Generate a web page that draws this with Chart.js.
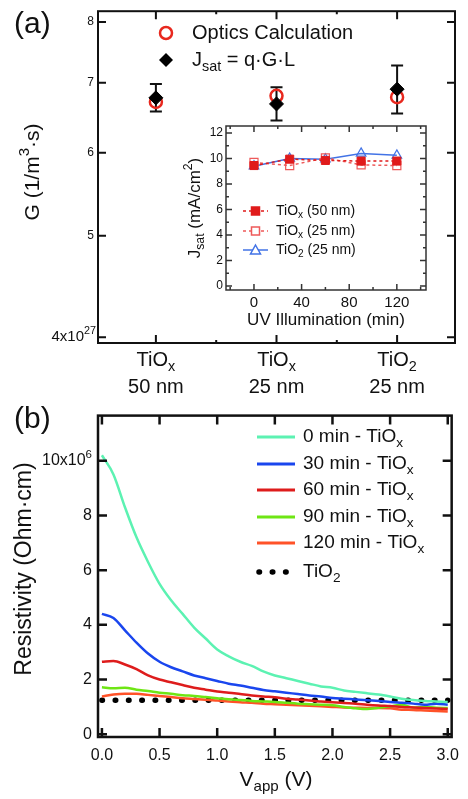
<!DOCTYPE html>
<html>
<head>
<meta charset="utf-8">
<script src="https://cdn.jsdelivr.net/npm/chart.js@4"></script>
<style>
  body { margin: 0; background: #fff; }
  #wrap { position: relative; width: 468px; height: 799px; }
  canvas { position: absolute; }
</style>
</head>
<body>
<div id="wrap">
  <canvas id="panelA" width="468" height="400" style="left:0;top:0"></canvas>
  <canvas id="inset" width="280" height="220" style="left:170px;top:115px"></canvas>
  <canvas id="panelB" width="468" height="399" style="left:0;top:400px"></canvas>
</div>
<script>
// ---- panel (a): generation rate per sample ----
const samples = [0, 1, 2];
const sampleTop = [['TiO', 'x'], ['TiO', 'x'], ['TiO', '2']];
const sampleBottom = ['50 nm', '25 nm', '25 nm'];
const opticsG = [6.71e27, 6.80e27, 6.78e27];
const jsatG = [6.77e27, 6.68e27, 6.90e27];
const jsatLow = [6.57e27, 6.44e27, 6.54e27];
const jsatHigh = [6.98e27, 6.93e27, 7.27e27];
const gTicks = [4e27, 5e27, 6e27, 7e27, 8e27];

// ---- inset: Jsat vs UV time ----
const uvMin = [0, 30, 60, 90, 120];
const jsatTiOx50 = [9.45, 9.95, 9.85, 9.8, 9.8];
const jsatTiOx25 = [9.7, 9.45, 10.05, 9.5, 9.45];
const jsatTiO2 = [9.4, 10.0, 9.95, 10.4, 10.25];
const uvTicks = [0, 40, 80, 120];

// ---- panel (b): resistivity vs applied voltage (x1e6 Ohm cm) ----
const vApp = [0.0, 0.1, 0.2, 0.3, 0.4, 0.5, 0.6, 0.7, 0.8, 0.9, 1.0, 1.1, 1.2, 1.3, 1.4, 1.5,
  1.6, 1.7, 1.8, 1.9, 2.0, 2.1, 2.2, 2.3, 2.4, 2.5, 2.6, 2.7, 2.8, 2.9, 3.0];
const res0 = [10.2, 9.5, 8.3, 7.2, 6.3, 5.5, 4.9, 4.4, 3.9, 3.5, 3.1, 2.85, 2.65, 2.5, 2.3, 2.15,
  2.05, 1.95, 1.85, 1.75, 1.7, 1.6, 1.55, 1.5, 1.45, 1.38, 1.3, 1.25, 1.22, 1.2, 1.18];
const res30 = [4.4, 4.25, 3.8, 3.35, 2.95, 2.65, 2.45, 2.3, 2.15, 2.05, 1.95, 1.85, 1.78, 1.7, 1.62, 1.57,
  1.52, 1.47, 1.42, 1.38, 1.33, 1.3, 1.27, 1.24, 1.22, 1.18, 1.15, 1.12, 1.08, 1.12, 1.08];
const res60 = [2.65, 2.68, 2.55, 2.38, 2.15, 2.0, 1.9, 1.8, 1.7, 1.63, 1.56, 1.52, 1.47, 1.42, 1.38, 1.35,
  1.3, 1.27, 1.23, 1.2, 1.17, 1.14, 1.12, 1.08, 1.05, 1.03, 1.0, 0.98, 0.96, 0.94, 0.92];
const res90 = [1.72, 1.68, 1.7, 1.63, 1.58, 1.52, 1.48, 1.43, 1.4, 1.36, 1.32, 1.28, 1.25, 1.22, 1.2, 1.18,
  1.15, 1.12, 1.1, 1.08, 1.06, 1.0, 0.95, 0.92, 0.97, 1.02, 1.08, 0.98, 1.0, 0.97, 0.96];
const res120 = [1.38, 1.45, 1.48, 1.48, 1.44, 1.4, 1.36, 1.32, 1.29, 1.26, 1.23, 1.2, 1.17, 1.15, 1.12, 1.1,
  1.08, 1.06, 1.04, 1.02, 1.0, 0.98, 0.97, 0.96, 0.96, 0.95, 0.9, 0.89, 0.87, 0.85, 0.83];
const tio2V = [0.0, 3.0];
const tio2Res = [1.24, 1.24];
const resTicks = [0, 2, 4, 6, 8, 10];

const FONT = '"Liberation Sans", Arial, Helvetica, sans-serif';
Chart.defaults.font.family = FONT;
Chart.defaults.color = '#111';

// text with sub (1) / superscript (2) pieces
function drawRich(ctx, parts, x, y, size, align, angle) {
  ctx.save();
  ctx.translate(x, y);
  if (angle) ctx.rotate(angle);
  let w = 0;
  for (const [t, m] of parts) {
    ctx.font = (m ? size * 0.72 : size) + 'px ' + FONT;
    w += ctx.measureText(t).width;
  }
  let cx = align === 'center' ? -w / 2 : align === 'right' ? -w : 0;
  ctx.textBaseline = 'middle';
  ctx.textAlign = 'left';
  ctx.fillStyle = '#111';
  for (const [t, m] of parts) {
    ctx.font = (m ? size * 0.72 : size) + 'px ' + FONT;
    const dy = m === 1 ? size * 0.33 : m === 2 ? -size * 0.4 : 0;
    ctx.fillText(t, cx, dy);
    cx += ctx.measureText(t).width;
  }
  ctx.restore();
}

// box frame + inward ticks, then extra text
function makeFrame(cfg) {
  return {
    id: 'frame',
    afterDraw(chart) {
      const { ctx, chartArea: a, scales } = chart;
      ctx.save();
      ctx.strokeStyle = cfg.color || '#111';
      ctx.lineWidth = cfg.width;
      ctx.strokeRect(a.left, a.top, a.right - a.left, a.bottom - a.top);
      ctx.beginPath();
      const xTick = (v, len) => {
        const px = scales.x.getPixelForValue(v);
        ctx.moveTo(px, a.bottom); ctx.lineTo(px, a.bottom - len);
        ctx.moveTo(px, a.top); ctx.lineTo(px, a.top + len);
      };
      const yTick = (v, len) => {
        const py = scales.y.getPixelForValue(v);
        ctx.moveTo(a.left, py); ctx.lineTo(a.left + len, py);
        ctx.moveTo(a.right, py); ctx.lineTo(a.right - len, py);
      };
      scales.x.ticks.forEach(t => xTick(t.value, cfg.major));
      scales.y.ticks.forEach(t => yTick(t.value, cfg.major));
      (cfg.xMinor || []).forEach(v => xTick(v, cfg.minor));
      (cfg.yMinor || []).forEach(v => yTick(v, cfg.minor));
      ctx.stroke();
      ctx.restore();
      if (cfg.text) cfg.text(chart, ctx);
    }
  };
}

// ---------- panel (a) ----------
const errorBars = {
  id: 'errorBars',
  beforeDatasetsDraw(chart) {
    const { ctx, scales } = chart;
    ctx.save();
    ctx.strokeStyle = '#111';
    ctx.lineWidth = 2;
    ctx.beginPath();
    samples.forEach((s, i) => {
      const px = scales.x.getPixelForValue(s);
      const hi = scales.y.getPixelForValue(jsatHigh[i]);
      const lo = scales.y.getPixelForValue(jsatLow[i]);
      ctx.moveTo(px, hi); ctx.lineTo(px, lo);
      ctx.moveTo(px - 6, hi); ctx.lineTo(px + 6, hi);
      ctx.moveTo(px - 6, lo); ctx.lineTo(px + 6, lo);
    });
    ctx.stroke();
    ctx.restore();
  }
};

const frameA = makeFrame({
  width: 2, major: 8, minor: 3, xMinor: [0.5, 1.5],
  text(chart, ctx) {
    const { scales } = chart;
    drawRich(ctx, [['(a)', 0]], 14, 25, 30, 'left');
    drawRich(ctx, [['G (1/m', 0], ['3', 2], ['·s)', 0]], 33, 172, 21, 'center', -Math.PI / 2);
    drawRich(ctx, [['4x10', 0], ['27', 2]], 96, scales.y.getPixelForValue(gTicks[0]), 15, 'right');
    samples.forEach((s, i) => {
      const px = scales.x.getPixelForValue(s);
      drawRich(ctx, [[sampleTop[i][0], 0], [sampleTop[i][1], 1]], px, 360, 20, 'center');
      drawRich(ctx, [[sampleBottom[i], 0]], px, 387, 20, 'center');
    });
    // legend
    ctx.save();
    ctx.strokeStyle = '#e8281e';
    ctx.lineWidth = 2.5;
    ctx.beginPath(); ctx.arc(166, 33, 6, 0, Math.PI * 2); ctx.stroke();
    ctx.fillStyle = '#000';
    ctx.beginPath();
    ctx.moveTo(159, 60); ctx.lineTo(166, 53); ctx.lineTo(173, 60); ctx.lineTo(166, 67);
    ctx.closePath(); ctx.fill();
    ctx.restore();
    drawRich(ctx, [['Optics Calculation', 0]], 192, 33, 20, 'left');
    drawRich(ctx, [['J', 0], ['sat', 1], [' = q·G·L', 0]], 192, 60, 20, 'left');
  }
});

new Chart(document.getElementById('panelA'), {
  type: 'scatter',
  data: {
    datasets: [
      {
        label: 'Jsat = q·G·L',
        data: samples.map((s, i) => ({ x: s, y: jsatG[i] })),
        pointStyle: 'rectRot', pointRadius: 7,
        backgroundColor: '#000', borderColor: '#000', borderWidth: 1
      },
      {
        label: 'Optics Calculation',
        data: samples.map((s, i) => ({ x: s, y: opticsG[i] })),
        pointStyle: 'circle', pointRadius: 6,
        backgroundColor: 'rgba(255,255,255,0)', borderColor: '#e8281e', borderWidth: 2.5
      }
    ]
  },
  options: {
    responsive: false, animation: false, devicePixelRatio: 1,
    layout: { padding: { top: 6, right: 13, left: 0, bottom: 0 } },
    plugins: { legend: { display: false }, tooltip: { enabled: false } },
    scales: {
      x: {
        type: 'linear', min: -0.48, max: 2.48,
        afterBuildTicks: s => { s.ticks = samples.map(v => ({ value: v })); },
        ticks: { display: false },
        grid: { display: false, drawTicks: false }, border: { display: false },
        afterFit: s => { s.height = 57; }
      },
      y: {
        type: 'logarithmic', min: 3.95e27, max: 8.19e27,
        afterBuildTicks: s => { s.ticks = gTicks.map(v => ({ value: v })); },
        ticks: {
          callback: v => v === gTicks[0] ? '' : String(Math.round(v / 1e27)),
          font: { size: 12 }, padding: 4
        },
        grid: { display: false, drawTicks: false }, border: { display: false },
        afterFit: s => { s.width = 98; }
      }
    }
  },
  plugins: [errorBars, frameA]
});

// ---------- inset ----------
const insetColors = ['#e01b1b', '#ee5a5a', '#4273e6'];
const frameInset = makeFrame({
  width: 1.5, color: '#333', major: 6, minor: 3,
  xMinor: [-20, 20, 60, 100, 140], yMinor: [1, 3, 5, 7, 9, 11],
  text(chart, ctx) {
    drawRich(ctx, [['J', 0], ['sat', 1], [' (mA/cm', 0], ['2', 2], [')', 0]], 25, 93, 17, 'center', -Math.PI / 2);
    drawRich(ctx, [['UV Illumination (min)', 0]], 156, 205, 17, 'center');
    const rows = [96, 116, 135];
    const names = [[['TiO', 0], ['x', 1], [' (50 nm)', 0]], [['TiO', 0], ['x', 1], [' (25 nm)', 0]], [['TiO', 0], ['2', 1], [' (25 nm)', 0]]];
    rows.forEach((y, i) => {
      ctx.save();
      ctx.strokeStyle = insetColors[i];
      ctx.lineWidth = 1.5;
      ctx.setLineDash(i < 2 ? [3, 3] : []);
      ctx.beginPath(); ctx.moveTo(73, y); ctx.lineTo(98, y); ctx.stroke();
      ctx.setLineDash([]);
      ctx.fillStyle = i === 0 ? insetColors[0] : '#fff';
      ctx.beginPath();
      if (i < 2) ctx.rect(81.5, y - 4, 8, 8);
      else { ctx.moveTo(85.5, y - 5); ctx.lineTo(90.5, y + 4); ctx.lineTo(80.5, y + 4); ctx.closePath(); }
      ctx.fill(); ctx.stroke();
      ctx.restore();
      drawRich(ctx, names[i], 106, y, 14, 'left');
    });
  }
});

new Chart(document.getElementById('inset'), {
  type: 'line',
  data: {
    datasets: [
      {
        label: 'TiOx (50 nm)',
        data: uvMin.map((m, i) => ({ x: m, y: jsatTiOx50[i] })),
        borderColor: insetColors[0], backgroundColor: insetColors[0],
        borderWidth: 1.5, borderDash: [3, 3],
        pointStyle: 'rect', pointRadius: 5.7, pointBorderWidth: 1
      },
      {
        label: 'TiOx (25 nm)',
        data: uvMin.map((m, i) => ({ x: m, y: jsatTiOx25[i] })),
        borderColor: insetColors[1], backgroundColor: 'rgba(255,255,255,0)',
        borderWidth: 1.5, borderDash: [3, 3],
        pointStyle: 'rect', pointRadius: 5.7, pointBorderWidth: 1.2
      },
      {
        label: 'TiO2 (25 nm)',
        data: uvMin.map((m, i) => ({ x: m, y: jsatTiO2[i] })),
        borderColor: insetColors[2], backgroundColor: 'rgba(255,255,255,0)',
        borderWidth: 1.5,
        pointStyle: 'triangle', pointRadius: 5.5, pointBorderWidth: 1.2
      }
    ]
  },
  options: {
    responsive: false, animation: false, devicePixelRatio: 1,
    layout: { padding: { top: 11, right: 24, left: 0, bottom: 0 } },
    plugins: { legend: { display: false }, tooltip: { enabled: false } },
    scales: {
      x: {
        type: 'linear', min: -23.5, max: 144.5,
        afterBuildTicks: s => { s.ticks = uvTicks.map(v => ({ value: v })); },
        ticks: { font: { size: 15 }, padding: 4 },
        grid: { display: false, drawTicks: false }, border: { display: false },
        afterFit: s => { s.height = 45; }
      },
      y: {
        type: 'linear', min: -0.31, max: 12.55,
        ticks: { stepSize: 2, includeBounds: false, font: { size: 12 }, padding: 3 },
        grid: { display: false, drawTicks: false }, border: { display: false },
        afterFit: s => { s.width = 56; }
      }
    }
  },
  plugins: [frameInset]
});

// ---------- panel (b) ----------
const seriesB = [
  { name: '0 min - TiO', sub: 'x', values: res0, color: '#5cf2b2' },
  { name: '30 min - TiO', sub: 'x', values: res30, color: '#1a46ee' },
  { name: '60 min - TiO', sub: 'x', values: res60, color: '#de1c1c' },
  { name: '90 min - TiO', sub: 'x', values: res90, color: '#6ee614' },
  { name: '120 min - TiO', sub: 'x', values: res120, color: '#ff5228' }
];

const frameB = makeFrame({
  width: 2.5, major: 9, minor: 4,
  text(chart, ctx) {
    const { scales } = chart;
    drawRich(ctx, [['(b)', 0]], 14, 20, 30, 'left');
    drawRich(ctx, [['Resistivity (Ohm·cm)', 0]], 25, 169, 23, 'center', -Math.PI / 2);
    drawRich(ctx, [['10x10', 0], ['6', 2]], 92, scales.y.getPixelForValue(10), 16, 'right');
    drawRich(ctx, [['V', 0], ['app', 1], [' (V)', 0]], 276, 380, 21, 'center');
    const rows = [37, 64, 90, 117, 143];
    seriesB.forEach((s, i) => {
      ctx.save();
      ctx.strokeStyle = s.color; ctx.lineWidth = 3;
      ctx.beginPath(); ctx.moveTo(257, rows[i]); ctx.lineTo(295, rows[i]); ctx.stroke();
      ctx.restore();
      drawRich(ctx, [[s.name, 0], [s.sub, 1]], 303, rows[i], 19, 'left');
    });
    ctx.save();
    ctx.strokeStyle = '#000'; ctx.lineWidth = 5.5; ctx.lineCap = 'round';
    ctx.setLineDash([0.5, 12.8]);
    ctx.beginPath(); ctx.moveTo(259, 172); ctx.lineTo(295, 172); ctx.stroke();
    ctx.restore();
    drawRich(ctx, [['TiO', 0], ['2', 1]], 303, 172, 19, 'left');
  }
});

const dsB = seriesB.map(s => ({
  label: s.name + s.sub,
  data: vApp.map((v, i) => ({ x: v, y: s.values[i] })),
  borderColor: s.color, borderWidth: 2.5, pointRadius: 0,
  tension: 0.3, cubicInterpolationMode: 'monotone'
}));
dsB.push({
  label: 'TiO2',
  data: tio2V.map((v, i) => ({ x: v, y: tio2Res[i] })),
  borderColor: '#000', borderWidth: 5.5, borderCapStyle: 'round',
  borderDash: [0.5, 12.8], pointRadius: 0
});

new Chart(document.getElementById('panelB'), {
  type: 'line',
  data: { datasets: dsB },
  options: {
    responsive: false, animation: false, devicePixelRatio: 1,
    layout: { padding: { top: 5, right: 12, left: 0, bottom: 0 } },
    plugins: { legend: { display: false }, tooltip: { enabled: false } },
    scales: {
      x: {
        type: 'linear', min: -0.034, max: 3.034,
        ticks: { stepSize: 0.5, includeBounds: false, font: { size: 16 }, padding: 9,
          callback: v => v.toFixed(1) },
        grid: { display: false, drawTicks: false }, border: { display: false },
        afterFit: s => { s.height = 62; }
      },
      y: {
        type: 'linear', min: -0.1, max: 11.65,
        afterBuildTicks: s => { s.ticks = resTicks.map(v => ({ value: v })); },
        ticks: { font: { size: 16 }, padding: 6,
          callback: v => v === 10 ? '' : String(v) },
        grid: { display: false, drawTicks: false }, border: { display: false },
        afterFit: s => { s.width = 98; }
      }
    }
  },
  plugins: [frameB]
});
</script>
</body>
</html>
